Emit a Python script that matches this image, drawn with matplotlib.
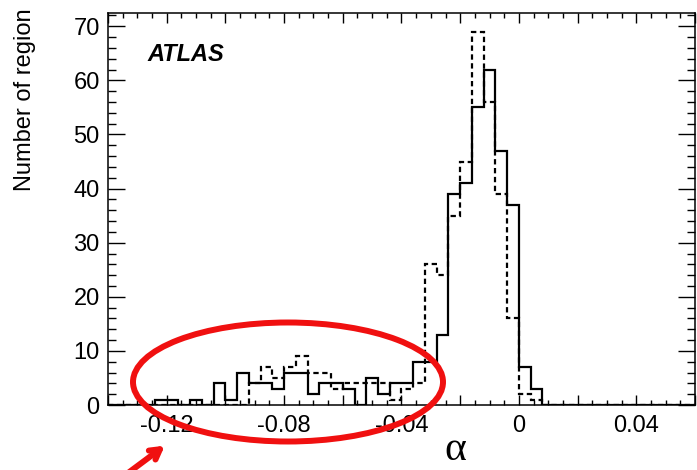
import numpy as np
import matplotlib
matplotlib.use("Agg")
import matplotlib.pyplot as plt
from matplotlib.patches import Ellipse
from matplotlib.ticker import MultipleLocator, FuncFormatter

plt.rcParams['font.family'] = ['Liberation Sans', 'DejaVu Sans']
plt.rcParams['axes.unicode_minus'] = False

# alpha binning: 50 bins of 0.004 from -0.14 to 0.06
x_lo, x_hi, n_bins = -0.14, 0.06, 50

# number of regions per bin, solid histogram (bins listed from x_lo upward)
solid_counts = [0, 0, 0, 0, 1, 1, 0, 1, 0, 4,
                1, 6, 4, 4, 3, 6, 6, 2, 4, 4,
                3, 0, 5, 2, 4, 4, 8, 8, 13, 39,
                41, 55, 62, 47, 37, 7, 3, 0, 0, 0,
                0, 0, 0, 0, 0, 0, 0, 0, 0, 0]

# dashed histogram
dashed_counts = [0, 0, 0, 0, 0, 0, 0, 0, 0, 0,
                 0, 0, 4, 7, 5, 7, 9, 6, 6, 3,
                 4, 4, 4, 4, 1, 3, 4, 26, 24, 35,
                 45, 69, 56, 39, 16, 2, 1, 0, 0, 0,
                 0, 0, 0, 0, 0, 0, 0, 0, 0, 0]

x_label_ticks = [-0.12, -0.08, -0.04, 0, 0.04]

edges = np.linspace(x_lo, x_hi, n_bins + 1)

fig = plt.figure(figsize=(6.97, 4.70), dpi=100)
ax = fig.add_axes([108 / 697, 1 - 405 / 470, 587 / 697, 392 / 470])

ax.stairs(solid_counts, edges, color='black', lw=1.6, baseline=0)
ax.stairs(dashed_counts, edges, color='black', lw=1.6, baseline=0,
          linestyle=(0, (2.4, 1.6)))

ax.set_xlim(x_lo, x_hi)
ax.set_ylim(0, 1.05 * max(max(solid_counts), max(dashed_counts)))

# ROOT-like axes: ticks inside on all four sides
ax.xaxis.set_major_locator(MultipleLocator(0.02))
ax.xaxis.set_minor_locator(MultipleLocator(0.005))
ax.yaxis.set_major_locator(MultipleLocator(10))
ax.yaxis.set_minor_locator(MultipleLocator(2))


def xfmt(v, pos):
    for t in x_label_ticks:
        if abs(v - t) < 1e-6:
            return '0' if t == 0 else f'{t:g}'
    return ''


ax.xaxis.set_major_formatter(FuncFormatter(xfmt))
ax.tick_params(axis='both', which='both', direction='in', top=True, right=True,
               labelsize=17, width=1)
ax.tick_params(axis='x', which='major', length=7.5, pad=7)
ax.tick_params(axis='x', which='minor', length=3.6)
ax.tick_params(axis='y', which='major', length=12, pad=6)
ax.tick_params(axis='y', which='minor', length=6)
for s in ax.spines.values():
    s.set_linewidth(1.1)

ax.text(0.068, 0.895, 'ATLAS', transform=ax.transAxes, fontsize=17,
        fontweight='bold', fontstyle='italic', ha='left', va='center')

fig.text(25 / 697, 1 - 8 / 470, 'Number of region', rotation=90,
         ha='center', va='top', fontsize=17)
fig.text(455 / 697, 1 - 450 / 470, 'α', ha='center', va='center',
         fontsize=30, family=['Liberation Serif', 'DejaVu Serif'])

# red highlight around the low-alpha tail
ell = Ellipse((288 / 697, 1 - 382 / 470), 310 / 697, 119 / 470,
              transform=fig.transFigure, fill=False, edgecolor='#f01010',
              lw=4.3, clip_on=False, zorder=10)
fig.patches.append(ell)
ax.annotate('', xy=(167, 470 - 444), xycoords='figure pixels',
            xytext=(124, -6), textcoords='figure pixels',
            arrowprops=dict(arrowstyle='->,head_length=0.7,head_width=0.4',
                            color='#f01010', lw=4.3),
            annotation_clip=False)

fig.savefig('out.png', dpi=100)
